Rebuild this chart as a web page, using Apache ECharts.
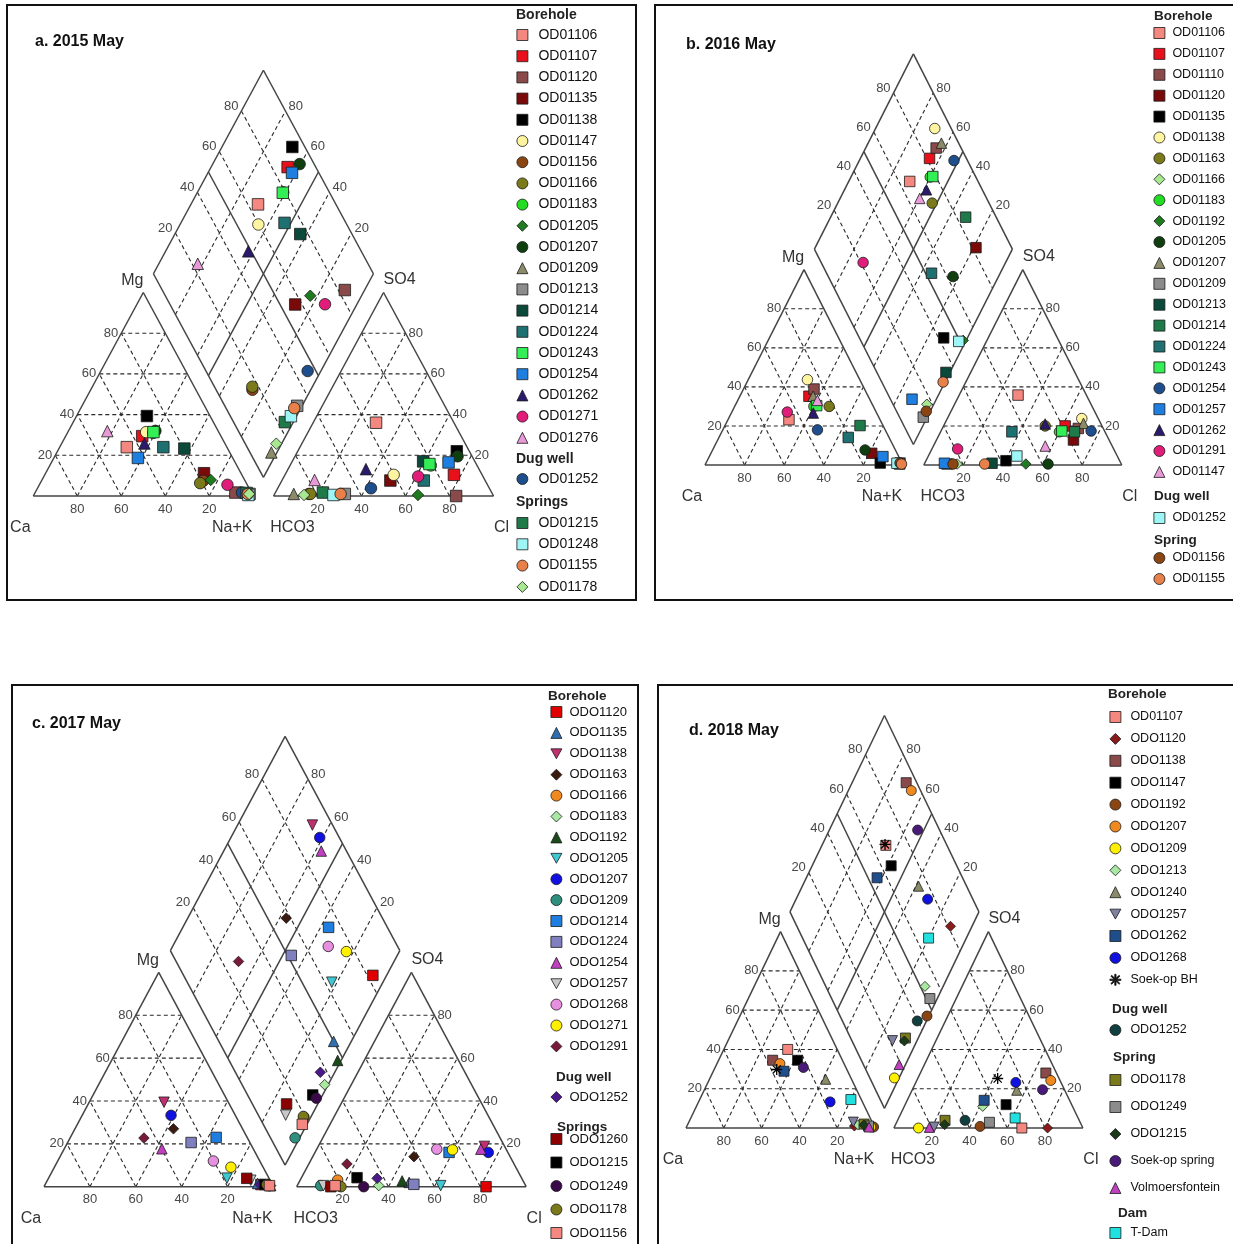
<!DOCTYPE html>
<html>
<head>
<meta charset="utf-8">
<script src="https://cdn.jsdelivr.net/npm/echarts@6/dist/echarts.min.js"></script>
<style>
  html, body { margin: 0; padding: 0; background: #fff; }
  #chart { width: 1233px; height: 1244px; }
</style>
</head>
<body>
<div id="chart"></div>
<script>
// Piper diagrams, four sampling campaigns.
// Cations are given as Mg% and Na+K% (Ca% is the remainder),
// anions as SO4% and Cl% (HCO3% is the remainder).

// ---------- a. 2015 May ----------
const A_BOREHOLE = ['OD01106','OD01107','OD01120','OD01135','OD01138','OD01147','OD01156','OD01166','OD01183','OD01205',
                    'OD01207','OD01209','OD01213','OD01214','OD01224','OD01243','OD01254','OD01262','OD01271','OD01276'];
const A_DUGWELL = ['OD01252'];
const A_SPRINGS = ['OD01215','OD01248','OD01155','OD01178'];
const A_MG  = [24, 29.4, 1.7, 11.2, 39.3, 31.4, 7.5, 6.3, 31, 7.9, 32, 1, 1, 23.3, 24, 31.4, 18.7, 25.8, 5.5, 31.9, 1.7, 1.5, 0.5, 1, 1];
const A_NAK = [30.5, 34.8, 91, 72, 32, 35.6, 73.5, 72.7, 39, 76.7, 39.5, 97.5, 97.8, 57, 47.1, 38.9, 38.2, 37.6, 85.5, 17.7, 94, 96.2, 97.5, 97, 97.6];
const A_SO4 = [36, 10.4, 0, 7.6, 22, 10.4, 1, 1, 15, 0.5, 19.5, 1, 1, 17, 7.6, 15.7, 16.5, 13.2, 9.6, 7.9, 3.8, 1.7, 0.5, 1, 0.5];
const A_CL  = [28.6, 76.8, 83, 49.3, 72.3, 49.4, 15.5, 16.2, 64, 65.4, 73.9, 8.7, 31.9, 59.5, 64.5, 63, 71.3, 35.4, 60.9, 14.7, 42.4, 21.6, 27, 30, 13.6];
const A_SYMBOL = ['s','s','s','s','s','c','c','c','c','d','c','t','s','s','s','s','s','t','c','t','c','s','s','c','d'];
const A_COLOR = ['#f4877f','#e8101a','#8b4a4a','#7a0a0a','#000000','#fff5a0','#8b4513','#7a7a1a','#22dd22','#1e7b1e',
                 '#0f3f0f','#8b8b6a','#8c8c8c','#0b4a3a','#1f7070','#33ee55','#1e7fe0','#2b1a6b','#e01e7a','#e89ad8',
                 '#1f4e8c','#1f7a4a','#9ef5f5','#e8804a','#a8e890'];

// ---------- b. 2016 May ----------
const B_BOREHOLE = ['OD01106','OD01107','OD01110','OD01120','OD01135','OD01138','OD01163','OD01166','OD01183','OD01192','OD01205',
                    'OD01207','OD01209','OD01213','OD01214','OD01224','OD01243','OD01254','OD01257','OD01262','OD01291','OD01147'];
const B_DUGWELL = ['OD01252'];
const B_SPRINGS = ['OD01156','OD01155'];
const B_MG  = [23.2, 35.2, 38.9, 6, 1, 43.7, 30, 1, 30, 0.5, 7.7, 35.2, 1, 0.5, 20.2, 14.1, 30.4, 18, 4.3, 26.6, 27.1, 33.1, 0.9, 1, 0.5];
const B_NAK = [30.8, 34.9, 35.6, 81.2, 88, 29.9, 47.7, 96.5, 40, 98.5, 77, 37, 98, 98, 68.2, 65.3, 41.2, 47.8, 87.7, 41.4, 28, 40.2, 96.5, 98, 99];
const B_SO4 = [35.8, 20, 18.7, 12.8, 2.2, 23.8, 20, 0.5, 17, 0.5, 0.5, 21.3, 0.5, 0.9, 17, 17, 17.4, 17.4, 0.9, 21, 8.2, 9.7, 4.6, 0.5, 0.5];
const B_CL  = [29.7, 61.4, 68.7, 69.2, 40.4, 67.9, 51.3, 16.6, 60, 51.3, 62.5, 70, 11.5, 34, 67.6, 36, 61, 75.8, 10, 50.8, 13, 56.5, 44.7, 14.5, 30.5];
const B_SYMBOL = ['s','s','s','s','s','c','c','d','c','d','c','t','s','s','s','s','s','c','s','t','c','t','s','c','c'];
const B_COLOR = ['#f4877f','#e8101a','#8b4a4a','#7a0a0a','#000000','#fff5a0','#7a7a1a','#a8e890','#22dd22','#1e7b1e','#0f3f0f',
                 '#8b8b6a','#8c8c8c','#0b4a3a','#1f7a4a','#1f7070','#33ee55','#1f4e8c','#1e7fe0','#2b1a6b','#e01e7a','#e89ad8',
                 '#9ef5f5','#8b4513','#e8804a'];

// ---------- c. 2017 May ----------
const C_BOREHOLE = ['ODO1120','ODO1135','ODO1138','ODO1163','ODO1166','ODO1183','ODO1192','ODO1205','ODO1207','ODO1209',
                    'ODO1214','ODO1224','ODO1254','ODO1257','ODO1268','ODO1271','ODO1291'];
const C_DUGWELL = ['ODO1252'];
const C_SPRINGS = ['ODO1260','ODO1215','ODO1249','ODO1178','ODO1156'];
const C_MG  = [1, 1.5, 39.4, 27, 1, 0.5, 0.5, 4, 33.3, 0.5, 23, 20.6, 17.7, 3, 12, 9.1, 22.7, 1, 3.9, 1, 0.5, 1, 0.5];
const C_NAK = [94, 92.3, 32.6, 42.9, 97, 98.5, 98.5, 77.7, 38.7, 98, 63.5, 53.8, 42.5, 88.6, 67.8, 76.9, 32.2, 93.7, 86.4, 95.7, 98, 96.6, 98];
const C_SO4 = [0, 2, 18.8, 14, 3.1, 0.5, 2.7, 0.5, 16, 0.5, 16, 1.1, 17.5, 0.5, 17.5, 17.2, 10.6, 3.9, 0, 4.2, 0, 0, 0.5];
const C_CL  = [82.5, 48, 72.4, 44.1, 16.3, 35.5, 44.6, 62.5, 75.5, 10.2, 58.4, 50.5, 71.5, 11.4, 52.3, 59.3, 16.6, 33.1, 14.9, 24.2, 29.2, 19.3, 16.5];
const C_SYMBOL = ['s','t','v','d','c','d','t','v','c','c','s','s','t','v','c','c','d','d','s','s','c','c','s'];
const C_COLOR = ['#e00000','#2f6fb0','#c03070','#3b1a10','#f08a20','#a8e8a0','#1a4a1a','#40c8d0','#1010e0','#2f8f7f',
                 '#1e7fe0','#8080c0','#c040c0','#c8c8c8','#e890e0','#fff000','#7a1a3a','#4a1a8a','#8b0000','#000000',
                 '#3a0a4a','#7a7a1a','#f4877f'];

// ---------- d. 2018 May ----------
const D_BOREHOLE = ['OD01107','ODO1120','ODO1138','ODO1147','ODO1192','ODO1207','ODO1209','ODO1213','ODO1240','ODO1257',
                    'ODO1262','ODO1268','Soek-op BH'];
const D_DUGWELL = ['ODO1252'];
const D_SPRINGS = ['ODO1178','ODO1249','ODO1215','Soek-op spring','Volmoersfontein'];
const D_DAM = ['T-Dam'];
const D_MG  = [40, 1, 34.5, 34.5, 0.5, 32.8, 0.5, 1.5, 24.8, 3, 28.9, 13.3, 29.8, 1, 2, 1, 1.5, 30.8, 0.5, 14.5];
const D_NAK = [33.8, 88.6, 28.6, 41.8, 99, 33.3, 97.5, 90.4, 61.5, 87, 37.4, 69.6, 33.1, 95.1, 93.2, 96.1, 93.4, 46.7, 96.6, 80];
const D_SO4 = [0, 0, 28, 11.9, 0.8, 24.2, 0, 11, 19.2, 0.5, 14.1, 23.2, 25.2, 3.9, 3.9, 2.9, 1.7, 19.5, 0.3, 5.1];
const D_CL  = [67.7, 81.3, 66.4, 53.4, 45.2, 70.9, 13, 41.5, 55.4, 21, 40.7, 52.9, 42.3, 35.7, 25.1, 49.1, 26, 68.9, 18.6, 61.6];
const D_SYMBOL = ['s','d','s','s','c','c','c','d','t','v','s','c','*','c','s','s','d','c','t','s'];
const D_COLOR = ['#f4877f','#8b1a1a','#8b4a4a','#000000','#8b4513','#f08a20','#fff000','#a8e8a0','#8b8b6a','#8080a0',
                 '#1f4e8c','#1010e0','#000000','#0f3f3f','#7a7a1a','#8c8c8c','#1a3a1a','#4a1a7a','#c040c0','#20e0e0'];

// ---------------------------------------------------------------
const FONT = "'Liberation Sans', Arial, Helvetica, sans-serif";
const H = Math.sqrt(3) / 2;
const SYMBOLS = {
  s: 'rect', c: 'circle', t: 'triangle', d: 'diamond',
  v: 'path://M0,0L10,0L5,9Z',
  '*': 'path://M4.4,0H5.6V10H4.4Z M0,4.4H10V5.6H0Z M0.9,1.7L1.7,0.9L9.1,8.3L8.3,9.1Z M0.9,8.3L8.3,0.9L9.1,1.7L1.7,9.1Z'
};

const panels = [
  { key: 'a', title: 'a. 2015 May', tx: 35, ty: 42, ox: 33.3, oy: 496, sx: 220, sy: 235, g: 0.092, size: 11.5,
    groups: [A_BOREHOLE, A_DUGWELL, A_SPRINGS], mg: A_MG, nak: A_NAK, so4: A_SO4, cl: A_CL, sym: A_SYMBOL, col: A_COLOR,
    legend: { mx: 522, tgap: 5.5, font: 14, head: 14, sections: [
      { text: 'Borehole', hx: 516, hy: 15, first: 35, pitch: 21.2 },
      { text: 'Dug well', hx: 516, hy: 459, first: 479, pitch: 21 },
      { text: 'Springs', hx: 516, hy: 502, first: 523, pitch: 21.3 } ] } },
  { key: 'b', title: 'b. 2016 May', tx: 686, ty: 45, ox: 705, oy: 465, sx: 198, sy: 225.5, g: 0.105, size: 10.5,
    groups: [B_BOREHOLE, B_DUGWELL, B_SPRINGS], mg: B_MG, nak: B_NAK, so4: B_SO4, cl: B_CL, sym: B_SYMBOL, col: B_COLOR,
    legend: { mx: 1159, tgap: 2.5, font: 12.5, head: 13.5, sections: [
      { text: 'Borehole', hx: 1154, hy: 16, first: 33, pitch: 20.9 },
      { text: 'Dug well', hx: 1154, hy: 496, first: 518, pitch: 21 },
      { text: 'Spring', hx: 1154, hy: 540, first: 558, pitch: 21 } ] } },
  { key: 'c', title: 'c. 2017 May', tx: 32, ty: 724, ox: 44, oy: 1186.7, sx: 229.5, sy: 247.5, g: 0.101, size: 10.5,
    groups: [C_BOREHOLE, C_DUGWELL, C_SPRINGS], mg: C_MG, nak: C_NAK, so4: C_SO4, cl: C_CL, sym: C_SYMBOL, col: C_COLOR,
    legend: { mx: 556, tgap: 2.5, font: 13, head: 13.5, sections: [
      { text: 'Borehole', hx: 548, hy: 696, first: 712, pitch: 20.9 },
      { text: 'Dug well', hx: 556, hy: 1077, first: 1097, pitch: 21 },
      { text: 'Springs', hx: 557, hy: 1127, first: 1139, pitch: 23.5 } ] } },
  { key: 'd', title: 'd. 2018 May', tx: 689, ty: 731, ox: 686, oy: 1128, sx: 189, sy: 226.8, g: 0.1, size: 10,
    groups: [D_BOREHOLE, D_DUGWELL, D_SPRINGS, D_DAM], mg: D_MG, nak: D_NAK, so4: D_SO4, cl: D_CL, sym: D_SYMBOL, col: D_COLOR,
    legend: { mx: 1115, tgap: 4.5, font: 12.5, head: 13.5, sections: [
      { text: 'Borehole', hx: 1108, hy: 694, first: 717, pitch: 21.9 },
      { text: 'Dug well', hx: 1112, hy: 1009, first: 1030, pitch: 21 },
      { text: 'Spring', hx: 1113, hy: 1057, first: 1080, pitch: 27 },
      { text: 'Dam', hx: 1118, hy: 1213, first: 1233, pitch: 21 } ] } }
];

// Piper geometry in diagram units (triangle side = 1)
const cationXY = (n, m) => [n + m / 2, m * H];
const anionXY = (g, c, s) => [1 + g + c + s / 2, s * H];
const diamondXY = (g, n, a) => [1 + g / 2 + (n - a) / 2, (2 + g - a - n) * H];

function frameSegments(g) {
  const seg = [];
  const add = (p, q, dashed) => seg.push([p[0], p[1], q[0], q[1], dashed ? 1 : 0]);
  const cat = cationXY, ani = (c, s) => anionXY(g, c, s), dia = (n, a) => diamondXY(g, n, a);
  [0.2, 0.4, 0.6, 0.8].forEach(f => {
    add(cat(0, f), cat(1 - f, f), true);
    add(cat(f, 0), cat(f, 1 - f), true);
    add(cat(1 - f, 0), cat(0, 1 - f), true);
    add(ani(0, f), ani(1 - f, f), true);
    add(ani(f, 0), ani(f, 1 - f), true);
    add(ani(1 - f, 0), ani(0, 1 - f), true);
    add(dia(f, 1), dia(f, 0), true);
    add(dia(0, f), dia(1, f), true);
  });
  add(dia(0.5, 1), dia(0.5, 0), false);
  add(dia(0, 0.5), dia(1, 0.5), false);
  add(cat(0, 0), cat(1, 0)); add(cat(1, 0), cat(0, 1)); add(cat(0, 1), cat(0, 0));
  add(ani(0, 0), ani(1, 0)); add(ani(1, 0), ani(0, 1)); add(ani(0, 1), ani(0, 0));
  add(dia(1, 1), dia(1, 0)); add(dia(1, 0), dia(0, 0)); add(dia(0, 0), dia(0, 1)); add(dia(0, 1), dia(1, 1));
  return seg;
}

function frameLabels(g) {
  const L = [];
  const tick = (p, text, align, dx, dy) => L.push({ x: p[0], y: p[1], text, align, dx, dy, size: 13, color: '#484848' });
  const name = (p, text, dx, dy) => L.push({ x: p[0], y: p[1], text, align: 'center', dx, dy, size: 16, color: '#333' });
  [0.2, 0.4, 0.6, 0.8].forEach(f => {
    const v = String(Math.round(f * 100)), w = String(Math.round((1 - f) * 100));
    tick(cationXY(f, 0), w, 'center', 0, 13);
    tick(cationXY(0, f), v, 'right', -3, 0);
    tick(anionXY(g, f, 0), v, 'center', 0, 13);
    tick(anionXY(g, 1 - f, f), v, 'left', 3, 0);
    tick(diamondXY(g, 0, 1 - f), v, 'right', -3, -5);
    tick(diamondXY(g, 1 - f, 0), v, 'left', 3, -5);
  });
  name(cationXY(0, 1), 'Mg', -11, -12);
  name(cationXY(0, 0), 'Ca', -13, 32);
  name(cationXY(1, 0), 'Na+K', -21, 32);
  name(anionXY(g, 0, 0), 'HCO3', 19, 32);
  name(anionXY(g, 1, 0), 'Cl', 8, 32);
  name(anionXY(g, 0, 1), 'SO4', 16, -13);
  return L;
}

const option = {
  animation: false,
  backgroundColor: '#fff',
  grid: [], xAxis: [], yAxis: [], series: [], legend: [], graphic: []
};

const XMIN = -0.3, XMAX = 2.4, YMIN = -0.3, YMAX = 2.0;

panels.forEach((p, pi) => {
  option.grid.push({
    left: p.ox + XMIN * p.sx, width: (XMAX - XMIN) * p.sx,
    top: p.oy - YMAX * p.sy, height: (YMAX - YMIN) * p.sy,
    outerBoundsMode: 'none', containLabel: false
  });
  option.xAxis.push({ type: 'value', gridIndex: pi, min: XMIN, max: XMAX, show: false });
  option.yAxis.push({ type: 'value', gridIndex: pi, min: YMIN, max: YMAX, show: false });

  // frame: dashed grid and solid outlines
  option.series.push({
    type: 'custom', xAxisIndex: pi, yAxisIndex: pi, silent: true, z: 1,
    data: frameSegments(p.g),
    renderItem: (params, api) => {
      const a = api.coord([api.value(0), api.value(1)]);
      const b = api.coord([api.value(2), api.value(3)]);
      const dashed = api.value(4) === 1;
      return {
        type: 'line', shape: { x1: a[0], y1: a[1], x2: b[0], y2: b[1] },
        style: { stroke: dashed ? '#2a2a2a' : '#444', lineWidth: dashed ? 1.1 : 1.5, lineDash: dashed ? [4, 3] : null }
      };
    }
  });

  // tick labels and component names
  const labels = frameLabels(p.g);
  option.series.push({
    type: 'custom', xAxisIndex: pi, yAxisIndex: pi, silent: true, z: 2,
    data: labels.map((l, i) => [l.x, l.y, i]),
    renderItem: (params, api) => {
      const l = labels[api.value(2)];
      const c = api.coord([api.value(0), api.value(1)]);
      return {
        type: 'text', x: c[0] + l.dx, y: c[1] + l.dy,
        style: { text: l.text, fill: l.color, fontSize: l.size, fontFamily: FONT, align: l.align, verticalAlign: 'middle' }
      };
    }
  });

  // samples: one series per sample, plotted in both triangles and in the diamond
  const ids = [].concat(...p.groups);
  ids.forEach((id, i) => {
    const m = p.mg[i] / 100, n = p.nak[i] / 100, s = p.so4[i] / 100, c = p.cl[i] / 100;
    const a = 1 - s - c;
    const sym = p.sym[i];
    option.series.push({
      type: 'scatter', name: p.key + '|' + id, xAxisIndex: pi, yAxisIndex: pi, z: 3, silent: true,
      symbol: SYMBOLS[sym], symbolSize: sym === '*' ? p.size + 1 : p.size,
      itemStyle: { color: p.col[i], borderColor: sym === '*' ? p.col[i] : '#1a1a1a', borderWidth: sym === '*' ? 0 : 0.8, opacity: 1 },
      emphasis: { disabled: true },
      data: [cationXY(n, m), anionXY(p.g, c, s), diamondXY(p.g, n, a)]
    });
  });

  // legends with section headings
  const lg = p.legend;
  const boxH = Math.max(11, lg.font + 1);
  lg.sections.forEach((sec, si) => {
    option.graphic.push({
      type: 'text', x: sec.hx, y: sec.hy,
      style: { text: sec.text, fill: '#222', fontSize: lg.head, fontWeight: 'bold', fontFamily: FONT, verticalAlign: 'middle' }
    });
    option.legend.push({
      orient: 'vertical', left: lg.mx - 5.5, top: sec.first - boxH / 2, padding: 0,
      itemWidth: 11, itemHeight: 11, itemGap: sec.pitch - boxH, selectedMode: false,
      data: p.groups[si].map(id => p.key + '|' + id),
      formatter: nm => nm.slice(2),
      itemStyle: { borderColor: '#1a1a1a', borderWidth: 0.8 },
      textStyle: { fontSize: lg.font, fontFamily: FONT, color: '#111', lineHeight: lg.font + 1, padding: [0, 0, 0, lg.tgap] }
    });
  });

  option.graphic.push({
    type: 'text', x: p.tx, y: p.ty,
    style: { text: p.title, fill: '#111', fontSize: 16, fontWeight: 'bold', fontFamily: FONT, verticalAlign: 'middle' }
  });
});

// panel frames
[[7, 5, 629, 595], [655, 5, 590, 595], [12, 685, 626, 580], [658, 685, 590, 580]].forEach(r => {
  option.graphic.push({
    type: 'rect', shape: { x: r[0], y: r[1], width: r[2], height: r[3] },
    style: { fill: 'none', stroke: '#111', lineWidth: 2 }, z: -1
  });
});

const chart = echarts.init(document.getElementById('chart'), null, { renderer: 'canvas' });
chart.setOption(option);
</script>
</body>
</html>
